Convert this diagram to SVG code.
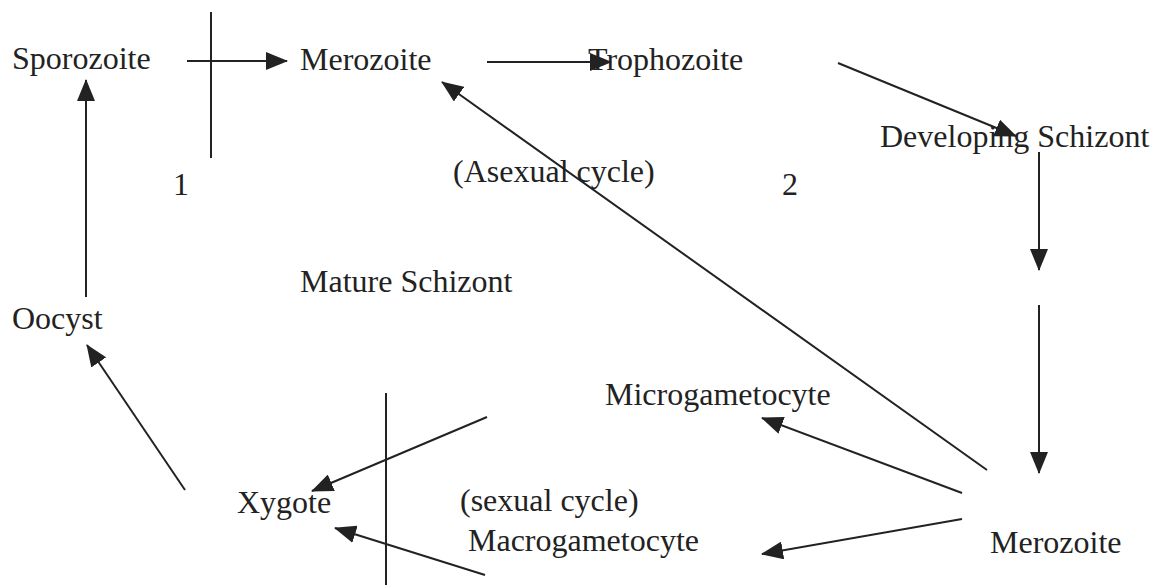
<svg xmlns="http://www.w3.org/2000/svg" width="1156" height="585" viewBox="0 0 1156 585">
<style>
text{font-family:"Liberation Serif","Times New Roman",serif;font-size:32px;fill:#222}
.c line{stroke:#222;stroke-width:2}
</style>
<defs>
<marker id="ah" markerWidth="22" markerHeight="18" refX="21" refY="9" orient="auto" markerUnits="userSpaceOnUse">
<path d="M0,0 L22,9 L0,18 Z" fill="#222"/>
</marker>
</defs>
<rect width="1156" height="585" fill="#fff"/>
<g class="c" id="connectors">
<line x1="187" y1="61" x2="287" y2="61" marker-end="url(#ah)"/>
<line x1="211" y1="12" x2="211" y2="158"/>
<line x1="487" y1="62" x2="611" y2="62" marker-end="url(#ah)"/>
<line x1="838" y1="63" x2="1016" y2="136" marker-end="url(#ah)"/>
<line x1="1039" y1="152" x2="1039" y2="270" marker-end="url(#ah)"/>
<line x1="1039" y1="305" x2="1039" y2="473" marker-end="url(#ah)"/>
<line x1="987" y1="470" x2="442" y2="82" marker-end="url(#ah)"/>
<line x1="962" y1="493" x2="762" y2="418" marker-end="url(#ah)"/>
<line x1="962" y1="519" x2="762" y2="554" marker-end="url(#ah)"/>
<line x1="487" y1="417" x2="312" y2="491" marker-end="url(#ah)"/>
<line x1="485" y1="575" x2="335" y2="528" marker-end="url(#ah)"/>
<line x1="386" y1="393" x2="386" y2="585"/>
<line x1="185" y1="490" x2="87" y2="345" marker-end="url(#ah)"/>
<line x1="86" y1="297" x2="86" y2="80" marker-end="url(#ah)"/>
</g>
<g id="sporozoite"><text x="12" y="69">Sporozoite</text></g>
<g id="merozoite-top"><text x="300" y="70">Merozoite</text></g>
<g id="trophozoite"><text x="588" y="70">Trophozoite</text></g>
<g id="developing-schizont"><text x="880" y="147">Developing Schizont</text></g>
<g id="asexual-cycle"><text x="453" y="182">(Asexual cycle)</text></g>
<g id="label-1"><text x="173" y="195">1</text></g>
<g id="label-2"><text x="782" y="195">2</text></g>
<g id="mature-schizont"><text x="300" y="292">Mature Schizont</text></g>
<g id="oocyst"><text x="12" y="329">Oocyst</text></g>
<g id="microgametocyte"><text x="605" y="405">Microgametocyte</text></g>
<g id="xygote"><text x="237" y="513">Xygote</text></g>
<g id="sexual-cycle"><text x="460" y="511">(sexual cycle)</text></g>
<g id="macrogametocyte"><text x="468" y="551">Macrogametocyte</text></g>
<g id="merozoite-bottom"><text x="990" y="553">Merozoite</text></g>
</svg>
